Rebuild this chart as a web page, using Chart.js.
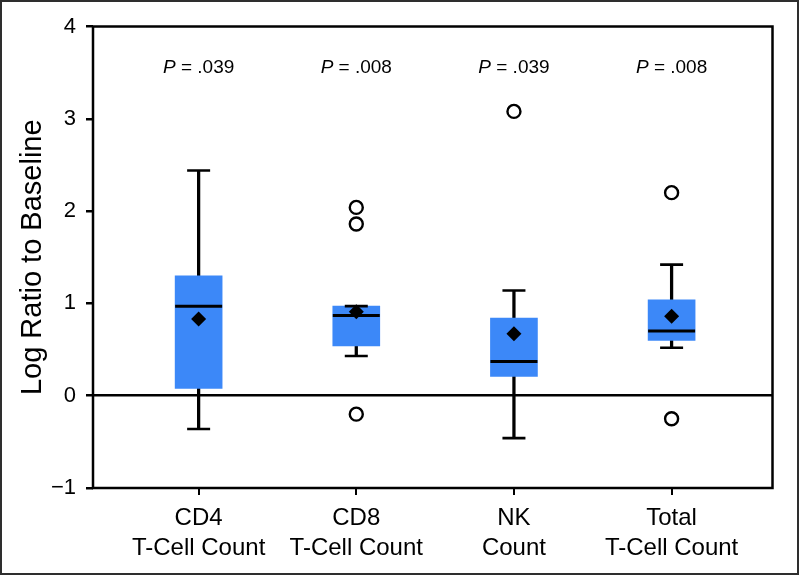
<!DOCTYPE html>
<html>
<head>
<meta charset="utf-8">
<title>Log Ratio to Baseline</title>
<script src="https://cdn.jsdelivr.net/npm/chart.js@4.4.1/dist/chart.umd.min.js"></script>
<style>
  html, body { margin: 0; padding: 0; background: #fff; }
  #wrap { width: 799px; height: 575px; }
</style>
</head>
<body>
<div id="wrap"><canvas id="chart" width="799" height="575"></canvas></div>
<script>
/* ---------- Data ---------- */
const categories = [['CD4', 'T-Cell Count'], ['CD8', 'T-Cell Count'], ['NK', 'Count'], ['Total', 'T-Cell Count']];
const whiskerLow  = [-0.36, 0.43, -0.46, 0.52];
const q1          = [0.08, 0.54, 0.21, 0.60];
const medians     = [0.97, 0.87, 0.37, 0.70];
const q3          = [1.30, 0.97, 0.84, 1.04];
const whiskerHigh = [2.44, 0.97, 1.14, 1.42];
const means       = [0.83, 0.91, 0.67, 0.86];
const outliers    = [[], [2.04, 1.86, -0.20], [3.08], [2.20, -0.25]];
const pValues     = ['.039', '.008', '.039', '.008'];
const yTicks      = [-1, 0, 1, 2, 3, 4];
const pLabelY     = 3.55;

/* ---------- Style ---------- */
const FONT = "'Liberation Sans', Arial, Helvetica, sans-serif";
const BOX_BLUE = '#3c88f8';
const idx = categories.map((_, i) => i);

Chart.defaults.font.family = FONT;
Chart.defaults.color = '#000';

const framePlugin = {
  id: 'frame',
  beforeDraw(chart) {
    const { ctx, width, height } = chart;
    ctx.save();
    ctx.fillStyle = '#fff';
    ctx.fillRect(0, 0, width, height);
    ctx.restore();
  },
  afterDraw(chart) {
    const { ctx, chartArea: a, width, height } = chart;
    ctx.save();
    // plot frame
    ctx.strokeStyle = '#000';
    ctx.lineWidth = 2.5;
    ctx.strokeRect(a.left, a.top, a.right - a.left, a.bottom - a.top);
    // outer picture border
    ctx.strokeStyle = '#2e2e2e';
    ctx.lineWidth = 2;
    ctx.strokeRect(1, 1, width - 2, height - 2);
    // P values
    const y = chart.scales.y.getPixelForValue(pLabelY);
    ctx.textBaseline = 'middle';
    ctx.fillStyle = '#000';
    pValues.forEach((p, i) => {
      const x = chart.scales.x.getPixelForValue(i);
      ctx.font = 'italic 19px ' + FONT;
      const wP = ctx.measureText('P').width;
      ctx.font = '19px ' + FONT;
      const rest = ' = ' + p;
      const wR = ctx.measureText(rest).width;
      const start = x - (wP + wR) / 2;
      ctx.font = 'italic 19px ' + FONT;
      ctx.fillText('P', start, y);
      ctx.font = '19px ' + FONT;
      ctx.fillText(rest, start + wP, y);
    });
    ctx.restore();
  }
};

const outlierPoints = [];
outliers.forEach((list, i) => list.forEach(v => outlierPoints.push({ x: i, y: v })));

new Chart(document.getElementById('chart'), {
  type: 'bar',
  data: {
    datasets: [
      {
        type: 'line', label: 'Mean', order: 1, showLine: false,
        data: idx.map(i => ({ x: i, y: means[i] })),
        pointStyle: 'rectRot', pointRadius: 7.5, pointBackgroundColor: '#000', pointBorderColor: '#000', pointBorderWidth: 0
      },
      {
        type: 'line', label: 'Outliers', order: 2, showLine: false,
        data: outlierPoints,
        pointStyle: 'circle', pointRadius: 6.5, pointBackgroundColor: '#fff', pointBorderColor: '#000', pointBorderWidth: 2.4
      },
      {
        type: 'line', label: 'Median', order: 3, showLine: false,
        data: idx.map(i => ({ x: i, y: medians[i] })),
        pointStyle: 'line', pointRadius: 23.5, pointBorderColor: '#000', pointBorderWidth: 3
      },
      {
        type: 'line', label: 'Whisker caps', order: 4, showLine: false,
        data: idx.flatMap(i => [{ x: i, y: whiskerLow[i] }, { x: i, y: whiskerHigh[i] }]),
        pointStyle: 'line', pointRadius: 11.5, pointBorderColor: '#000', pointBorderWidth: 2.6
      },
      {
        label: 'Box', order: 5, grouped: false,
        data: idx.map(i => ({ x: i, y: [q1[i], q3[i]] })),
        backgroundColor: BOX_BLUE, barThickness: 47
      },
      {
        label: 'Lower whisker', order: 6, grouped: false,
        data: idx.map(i => ({ x: i, y: [whiskerLow[i], q1[i]] })),
        backgroundColor: '#000', barThickness: 2.6
      },
      {
        label: 'Upper whisker', order: 6, grouped: false,
        data: idx.map(i => ({ x: i, y: [q3[i], whiskerHigh[i]] })),
        backgroundColor: '#000', barThickness: 2.6
      }
    ]
  },
  options: {
    responsive: false,
    animation: false,
    devicePixelRatio: 1,
    layout: { padding: { top: 23, right: 22, bottom: 0, left: 0 } },
    plugins: { legend: { display: false }, tooltip: { enabled: false } },
    scales: {
      x: {
        type: 'linear',
        min: -0.67, max: 3.64,
        offset: false,
        afterBuildTicks: s => { s.ticks = idx.map(v => ({ value: v })); },
        afterFit: s => { s.height = 87; },
        border: { display: false },
        grid: { offset: false, drawOnChartArea: false, color: '#000', tickColor: '#000', tickLength: 7, lineWidth: 2 },
        ticks: {
          autoSkip: false, maxRotation: 0, padding: 8,
          font: { size: 24, lineHeight: 1.25 },
          callback: v => categories[v]
        }
      },
      y: {
        type: 'linear',
        min: -1, max: 4,
        afterBuildTicks: s => { s.ticks = yTicks.map(v => ({ value: v })); },
        afterFit: s => { s.width = 93; },
        border: { display: false },
        grid: {
          color: c => (c.tick && c.tick.value === 0 ? '#000' : 'rgba(0,0,0,0)'),
          tickColor: '#000', tickLength: 7, lineWidth: 2.5
        },
        ticks: {
          padding: 10,
          font: { size: 22 },
          callback: v => (v < 0 ? '\u2212' + Math.abs(v) : String(v))
        },
        title: {
          display: true, text: 'Log Ratio to Baseline',
          font: { size: 29 }, padding: { top: 16, bottom: 0 }
        }
      }
    }
  },
  plugins: [framePlugin]
});
</script>
</body>
</html>
